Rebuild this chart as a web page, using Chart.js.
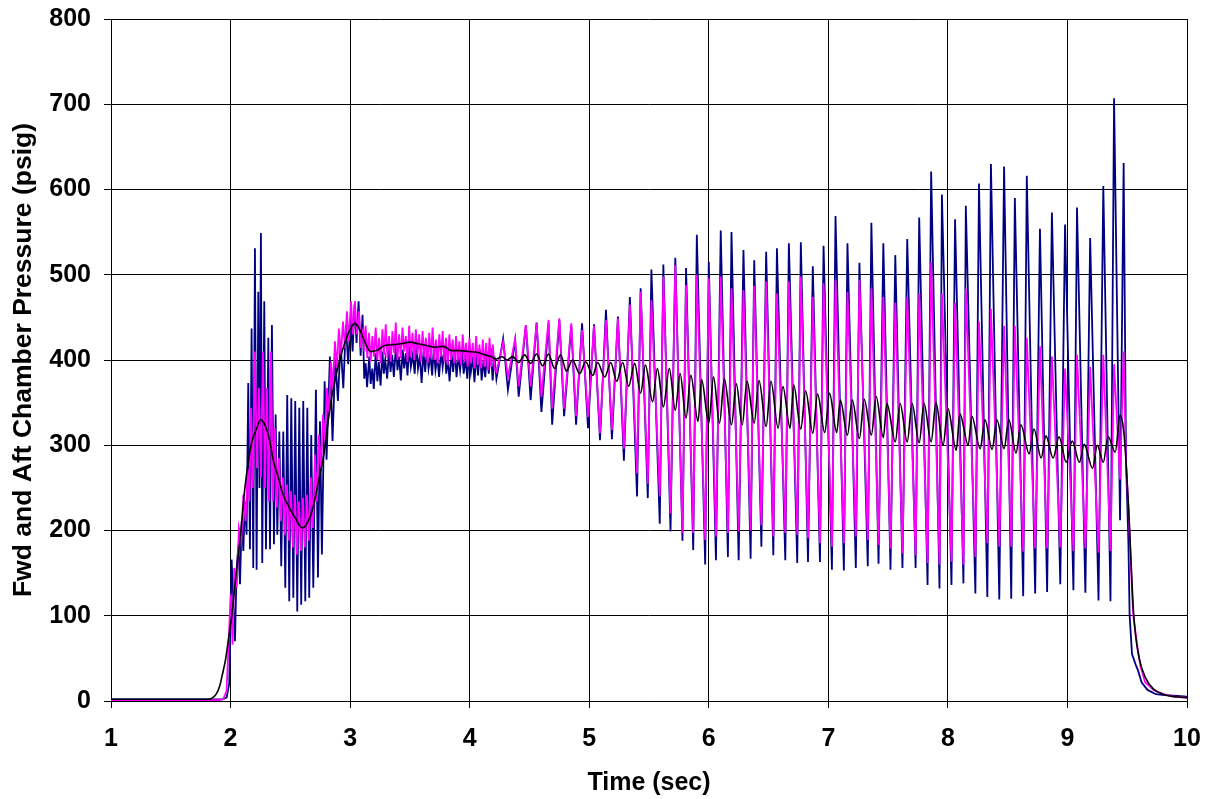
<!DOCTYPE html>
<html>
<head>
<meta charset="utf-8">
<title>Fwd and Aft Chamber Pressure</title>
<script src="https://cdn.jsdelivr.net/npm/chart.js@4.4.1/dist/chart.umd.min.js"></script>
<style>
  html, body { margin: 0; padding: 0; background: #fff; }
  #wrap { width: 1208px; height: 799px; }
</style>
</head>
<body>
<div id="wrap"><canvas id="chart" width="1208" height="799"></canvas></div>
<script>
// ---- data (time in sec, pressure in psig) ----

// forward chamber (navy): ignition spike and noisy plateau
const fwdStartTime = [
  1.00, 1.93, 1.967, 1.989, 2.009, 2.023, 2.037, 2.051, 2.065, 2.079,
  2.093, 2.107, 2.120, 2.134, 2.148, 2.162, 2.176, 2.190, 2.204, 2.218,
  2.232, 2.242, 2.254, 2.265, 2.282, 2.296, 2.316, 2.330, 2.346, 2.363,
  2.377, 2.391, 2.408, 2.424, 2.441, 2.458, 2.474, 2.491, 2.508, 2.525,
  2.541, 2.558, 2.575, 2.591, 2.608, 2.625, 2.642, 2.658, 2.675, 2.692,
  2.714, 2.731, 2.748, 2.764, 2.787, 2.803, 2.831, 2.853, 2.876, 2.898,
  2.920, 2.943, 2.965, 2.984, 3.004, 3.021, 3.037, 3.054, 3.071, 3.088,
  3.104,
  3.118, 3.130, 3.142, 3.160, 3.172, 3.186, 3.198, 3.214, 3.228, 3.240,
  3.255, 3.270, 3.282, 3.294, 3.310, 3.326, 3.338, 3.352, 3.366, 3.384,
  3.396, 3.410, 3.424, 3.440, 3.452, 3.466, 3.480, 3.494, 3.508, 3.524,
  3.540, 3.556, 3.568, 3.584, 3.598, 3.614, 3.628, 3.642, 3.656, 3.672,
  3.686, 3.700, 3.714, 3.730, 3.744, 3.760, 3.774, 3.790, 3.804, 3.818,
  3.832, 3.848, 3.862, 3.876, 3.890, 3.906, 3.920, 3.936, 3.950, 3.966,
  3.980, 3.996, 4.010, 4.026, 4.040, 4.056, 4.070, 4.086, 4.100, 4.116,
  4.130, 4.146, 4.160, 4.176, 4.192, 4.208, 4.224
];
const fwdStartPsig = [
  2, 2, 4, 20, 166, 117, 70, 156, 182, 137,
  211, 176, 234, 195, 373, 178, 437, 156, 531, 154,
  480, 250, 549, 162, 469, 178, 426, 178, 441, 184,
  336, 195, 316, 158, 316, 133, 359, 117, 355, 121,
  352, 105, 344, 113, 352, 117, 344, 121, 312, 133,
  365, 145, 328, 172, 375, 283, 404, 305, 402, 352,
  420, 367, 441, 395, 449, 410, 465, 420, 469, 405,
  453,
  378, 396, 368, 404, 372, 390, 366, 408, 375, 398,
  370, 410, 384, 400, 378, 414, 386, 406, 380, 418,
  388, 404, 376, 412, 390, 408, 382, 416, 392, 406,
  384, 420, 390, 404, 373, 410, 386, 412, 390, 406,
  382, 414, 388, 404, 380, 410, 392, 416, 384, 400,
  375, 408, 386, 412, 380, 406, 388, 410, 384, 402,
  378, 410, 386, 404, 374, 408, 382, 412, 376, 400,
  380, 406, 384, 414, 376, 404, 378
];

// aft chamber (magenta): ignition spike and noisy plateau
const aftStartTime = [
  1.00, 1.90, 1.939, 1.967, 1.989, 2.001, 2.017, 2.031, 2.051, 2.070,
  2.090, 2.107, 2.126, 2.143, 2.157, 2.171, 2.187, 2.204, 2.221, 2.238,
  2.254, 2.271, 2.288, 2.304, 2.321, 2.338, 2.355, 2.371, 2.388, 2.405,
  2.422, 2.438, 2.455, 2.472, 2.488, 2.505, 2.522, 2.539, 2.555, 2.572,
  2.589, 2.605, 2.622, 2.639, 2.656, 2.672, 2.689, 2.706, 2.722, 2.739,
  2.756, 2.773, 2.789, 2.806, 2.823, 2.840, 2.856, 2.873, 2.890, 2.906,
  2.923, 2.940, 2.957, 2.973, 2.990, 3.007, 3.024, 3.040, 3.057, 3.074,
  3.090, 3.110,
  3.118, 3.130, 3.144, 3.158, 3.172, 3.186, 3.200, 3.214, 3.228, 3.242,
  3.256, 3.270, 3.284, 3.298, 3.312, 3.326, 3.340, 3.354, 3.368, 3.382,
  3.396, 3.410, 3.424, 3.438, 3.452, 3.466, 3.480, 3.494, 3.508, 3.522,
  3.536, 3.550, 3.564, 3.578, 3.592, 3.606, 3.620, 3.634, 3.648, 3.662,
  3.676, 3.690, 3.704, 3.718, 3.732, 3.746, 3.760, 3.774, 3.788, 3.802,
  3.816, 3.830, 3.844, 3.858, 3.872, 3.886, 3.900, 3.914, 3.928, 3.942,
  3.956, 3.970, 3.984, 3.998, 4.012, 4.026, 4.040, 4.054, 4.068, 4.082,
  4.096, 4.110, 4.124, 4.138, 4.152, 4.166, 4.180, 4.194, 4.208, 4.224
];
const aftStartPsig = [
  1, 1, 2, 12, 86, 125, 66, 156, 133, 203,
  188, 242, 211, 273, 234, 344, 250, 410, 273, 367,
  262, 410, 250, 367, 234, 410, 234, 320, 227, 285,
  211, 262, 195, 254, 188, 246, 180, 242, 172, 234,
  176, 238, 180, 242, 188, 262, 203, 289, 234, 312,
  273, 336, 305, 367, 336, 398, 367, 422, 391, 437,
  406, 445, 414, 457, 422, 469, 430, 469, 430, 457,
  414, 437,
  410, 440, 402, 432, 398, 428, 404, 438, 400, 426,
  396, 436, 406, 442, 402, 428, 398, 434, 408, 444,
  400, 430, 402, 438, 410, 428, 398, 440, 404, 432,
  400, 436, 406, 430, 398, 434, 404, 426, 396, 432,
  402, 438, 400, 424, 396, 430, 404, 434, 398, 426,
  394, 430, 400, 424, 396, 428, 398, 422, 394, 430,
  398, 420, 392, 426, 396, 420, 390, 428, 394, 418,
  390, 424, 392, 420, 388, 426, 392, 418, 390, 386
];

// ~10 Hz instability: peak and trough times shared by both chambers
const cyclePeakTime = [
  4.28, 4.38, 4.47, 4.56, 4.66, 4.75, 4.85, 4.94, 5.04, 5.14,
  5.24, 5.34, 5.43, 5.52, 5.62, 5.72, 5.81, 5.90, 6.00, 6.10,
  6.19, 6.29, 6.38, 6.48, 6.57, 6.67, 6.77, 6.87, 6.96, 7.06,
  7.16, 7.26, 7.36, 7.46, 7.56, 7.66, 7.76, 7.86, 7.95, 8.06,
  8.15, 8.26, 8.36, 8.47, 8.56, 8.66, 8.77, 8.87, 8.98, 9.08,
  9.19, 9.30, 9.39, 9.47
];
const fwdPeak = [
  425, 423, 441, 444, 443, 447, 440, 443, 442, 459,
  451, 474, 484, 506, 512, 520, 508, 547, 515, 552,
  550, 529, 517, 527, 531, 537, 538, 510, 534, 569,
  537, 514, 561, 537, 523, 542, 567, 621, 594, 565,
  581, 607, 630, 627, 590, 616, 554, 573, 559, 579,
  543, 604, 707, 631
];
const aftPeak = [
  421, 425, 441, 443, 447, 449, 443, 435, 440, 447,
  449, 465, 480, 470, 498, 511, 488, 500, 496, 498,
  484, 482, 487, 492, 478, 492, 498, 474, 490, 494,
  480, 494, 484, 474, 467, 474, 478, 515, 478, 467,
  484, 445, 460, 440, 440, 426, 416, 404, 390, 406,
  392, 406, 395, 410
];
const cycleTroughTime = [
  4.32, 4.41, 4.51, 4.60, 4.69, 4.79, 4.89, 4.99, 5.09, 5.19,
  5.29, 5.40, 5.49, 5.59, 5.68, 5.78, 5.87, 5.97, 6.06, 6.16,
  6.25, 6.35, 6.44, 6.54, 6.64, 6.74, 6.83, 6.93, 7.03, 7.13,
  7.23, 7.33, 7.42, 7.52, 7.62, 7.73, 7.83, 7.93, 8.03, 8.13,
  8.23, 8.33, 8.43, 8.53, 8.63, 8.73, 8.83, 8.94, 9.05, 9.15,
  9.26, 9.36, 9.44
];
const fwdTrough = [
  365, 357, 353, 339, 324, 334, 324, 320, 306, 307,
  282, 240, 238, 208, 199, 188, 177, 160, 165, 169,
  165, 167, 181, 171, 165, 162, 163, 163, 154, 153,
  156, 158, 161, 154, 156, 156, 136, 132, 136, 138,
  126, 122, 119, 120, 123, 126, 128, 137, 130, 127,
  118, 117, 212
];
const aftTrough = [
  380, 369, 369, 357, 343, 343, 334, 333, 314, 318,
  296, 267, 255, 240, 220, 197, 197, 189, 193, 197,
  199, 200, 206, 193, 197, 195, 191, 185, 181, 185,
  193, 189, 183, 179, 173, 171, 162, 160, 163, 160,
  169, 185, 181, 181, 175, 179, 179, 180, 176, 179,
  174, 176, 260
];

// burnout tail-off
const fwdEndTime = [9.49, 9.51, 9.52, 9.54, 9.57, 9.59, 9.62, 9.67, 9.74, 9.81, 9.92, 10.0];
const fwdEndPsig = [281, 185, 101, 55, 43, 36, 22, 13, 8, 7, 6, 5];
const aftEndTime = [9.49, 9.51, 9.53, 9.55, 9.58, 9.61, 9.65, 9.72, 9.80, 9.90, 10.0];
const aftEndPsig = [277, 230, 161, 101, 69, 41, 22, 13, 8, 5, 4];

// black trace
const meanTime = [
  1.00, 1.80, 1.84, 1.88, 1.91, 1.93, 1.96, 1.98, 2.01, 2.04,
  2.08, 2.12, 2.15, 2.18, 2.22, 2.25, 2.28, 2.32, 2.36, 2.40,
  2.44, 2.48, 2.54, 2.60, 2.65, 2.69, 2.73, 2.78, 2.82, 2.86,
  2.91, 2.96, 3.00, 3.04, 3.08, 3.12, 3.17, 3.22, 3.29, 3.36,
  3.43, 3.50, 3.57, 3.64, 3.71, 3.78, 3.85, 3.92, 3.99, 4.06,
  4.13, 4.18, 4.22, 4.27, 4.31, 4.36, 4.41, 4.46, 4.51, 4.56,
  4.61, 4.66, 4.71, 4.76, 4.81, 4.86, 4.92, 4.97, 5.03, 5.07,
  5.13, 5.18, 5.23, 5.28, 5.33, 5.38, 5.43, 5.47, 5.53, 5.57,
  5.62, 5.67, 5.72, 5.76, 5.81, 5.85, 5.91, 5.94, 6.00, 6.04,
  6.09, 6.13, 6.19, 6.23, 6.28, 6.32, 6.38, 6.42, 6.48, 6.52,
  6.58, 6.62, 6.68, 6.71, 6.77, 6.81, 6.87, 6.91, 6.97, 7.01,
  7.07, 7.10, 7.16, 7.20, 7.26, 7.30, 7.36, 7.40, 7.46, 7.49,
  7.56, 7.60, 7.66, 7.70, 7.76, 7.80, 7.86, 7.90, 7.96, 8.00,
  8.07, 8.10, 8.17, 8.20, 8.27, 8.31, 8.37, 8.41, 8.47, 8.51,
  8.57, 8.61, 8.68, 8.72, 8.78, 8.82, 8.88, 8.93, 8.99, 9.04,
  9.10, 9.14, 9.21, 9.25, 9.30, 9.34, 9.40, 9.44, 9.47, 9.49,
  9.51, 9.53, 9.55, 9.57, 9.60, 9.65, 9.72, 9.80, 9.90, 10.0
];
const meanPsig = [
  2, 2, 3, 8, 18, 30, 50, 70, 100, 140,
  190, 250, 282, 305, 320, 330, 326, 310, 281, 262,
  242, 230, 215, 203, 211, 227, 254, 289, 332, 367,
  398, 422, 436, 443, 436, 422, 410, 411, 417, 418,
  419, 421, 419, 417, 415, 416, 411, 411, 410, 409,
  406, 404, 401, 404, 400, 404, 397, 406, 396, 407,
  393, 407, 390, 406, 387, 400, 384, 398, 382, 397,
  380, 397, 375, 397, 369, 396, 361, 394, 351, 390,
  345, 390, 341, 384, 332, 382, 328, 377, 326, 380,
  326, 378, 324, 372, 324, 375, 326, 376, 322, 375,
  320, 369, 320, 371, 319, 364, 314, 360, 315, 361,
  315, 353, 312, 353, 308, 354, 312, 357, 309, 349,
  304, 349, 304, 349, 303, 349, 304, 350, 300, 343,
  294, 337, 300, 334, 296, 330, 295, 330, 296, 330,
  291, 324, 290, 319, 285, 311, 285, 310, 280, 305,
  280, 301, 273, 300, 280, 310, 292, 335, 318, 281,
  230, 170, 110, 77, 50, 28, 14, 8, 5, 4
];

const xTicks = [1, 2, 3, 4, 5, 6, 7, 8, 9, 10];
const yTicks = [0, 100, 200, 300, 400, 500, 600, 700, 800];

// ---- build points ----
function toPoints(times, values) {
  if (times.length !== values.length) console.warn('length mismatch', times.length, values.length);
  return times.map((t, i) => ({ x: t, y: values[i] }));
}

function cyclePoints(peakValues, troughValues) {
  const pts = toPoints(cyclePeakTime, peakValues).concat(toPoints(cycleTroughTime, troughValues));
  return pts.sort((a, b) => a.x - b.x);
}

const fwdData = [
  ...toPoints(fwdStartTime, fwdStartPsig),
  ...cyclePoints(fwdPeak, fwdTrough),
  ...toPoints(fwdEndTime, fwdEndPsig)
];
const aftData = [
  ...toPoints(aftStartTime, aftStartPsig),
  ...cyclePoints(aftPeak, aftTrough),
  ...toPoints(aftEndTime, aftEndPsig)
];
const meanData = toPoints(meanTime, meanPsig);

const fontFamily = "'Liberation Sans', Arial, sans-serif";
const tickFont = { family: fontFamily, size: 25, weight: 'bold' };

// fixed axis boxes so the plot area lands where the reference has it
function fixX(s) {
  s.height = 98;
  s.paddingLeft = 0; s.paddingRight = 0;
}
function fixY(s) {
  s.width = 111;
  s.paddingTop = 0; s.paddingBottom = 0;
}

new Chart(document.getElementById('chart'), {
  type: 'line',
  data: {
    datasets: [
      {
        label: 'Mean',
        data: meanData,
        borderColor: '#000000',
        borderWidth: 1.6,
        pointRadius: 0,
        cubicInterpolationMode: 'monotone',
        order: 1
      },
      {
        label: 'Aft',
        data: aftData,
        borderColor: '#ff00ff',
        borderWidth: 1.8,
        pointRadius: 0,
        tension: 0,
        order: 2
      },
      {
        label: 'Fwd',
        data: fwdData,
        borderColor: '#000080',
        borderWidth: 1.8,
        pointRadius: 0,
        tension: 0,
        order: 3
      }
    ]
  },
  options: {
    responsive: false,
    animation: false,
    devicePixelRatio: 1,
    layout: { padding: { left: 0, right: 21, top: 19, bottom: 0 } },
    plugins: { legend: { display: false }, tooltip: { enabled: false } },
    scales: {
      x: {
        type: 'linear',
        min: 1,
        max: 10,
        afterFit: fixX,
        afterBuildTicks: (s) => { s.ticks = xTicks.map(v => ({ value: v })); },
        ticks: { color: '#000', font: tickFont, padding: 16, maxRotation: 0 },
        grid: { color: '#000', lineWidth: 1, tickLength: 7, tickColor: '#000' },
        border: { color: '#000', width: 1 },
        title: {
          display: true, text: 'Time (sec)', color: '#000',
          font: { family: fontFamily, size: 25, weight: 'bold' },
          padding: { top: 0, bottom: 1 }
        }
      },
      y: {
        min: 0,
        max: 800,
        afterFit: fixY,
        afterBuildTicks: (s) => { s.ticks = yTicks.map(v => ({ value: v })); },
        ticks: { color: '#000', font: tickFont, padding: 13 },
        grid: { color: '#000', lineWidth: 1, tickLength: 7, tickColor: '#000' },
        border: { color: '#000', width: 1 },
        title: {
          display: true, text: 'Fwd and Aft Chamber Pressure (psig)', color: '#000',
          font: { family: fontFamily, size: 26.5, weight: 'bold' },
          padding: { top: 8, bottom: 0 }
        }
      }
    }
  }
});
</script>
</body>
</html>
